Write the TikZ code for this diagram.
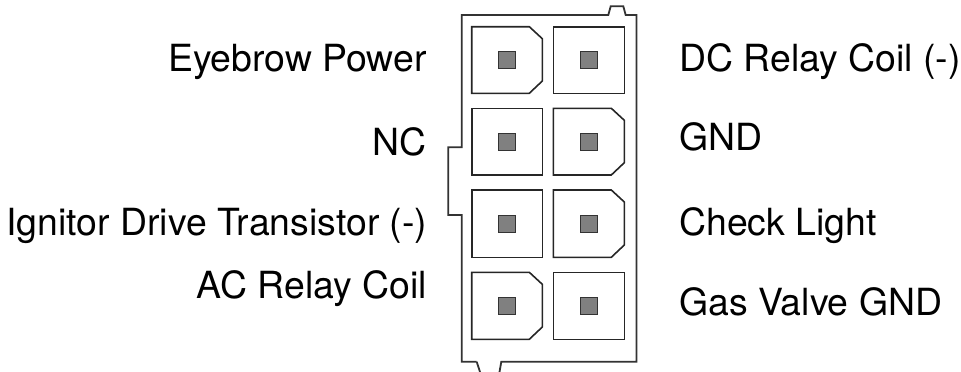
\documentclass[tikz,border=0pt]{standalone}
\usepackage{fontspec}
\setmainfont{TeX Gyre Heros}
\begin{document}
\begin{tikzpicture}[x=1pt,y=-1pt,
  housing/.style={draw=black!80,line width=1.8pt,line join=miter},
  cavity/.style={draw=black!85,line width=1.6pt,fill=white},
  pin/.style={draw=black!80,line width=1.1pt,fill=black!50,minimum size=17pt,inner sep=0pt,rectangle},
  lbl/.style={font=\fontsize{37.4}{40}\selectfont,inner sep=0pt}]
\useasboundingbox (0,0) rectangle (961,372);
% housing
\draw[housing] (476.7,361.7) -- (461.7,361.7) -- (461.7,215) -- (448.3,215) -- (448.3,147.3) -- (461.7,147.3)
  -- (461.7,15) -- (608.3,15) -- (610.7,6.3) -- (623.3,6.3) -- (625.7,15) -- (636.5,15) -- (636.5,361.7) -- (501.3,361.7) -- (498.8,376);
\draw[housing] (476.7,361.7) -- (481.3,376);
% cavities: columns x 471.7-542.3 and 553.3-624.3
% row 1
\draw[cavity] (471.7,26.7) -- (529.3,26.7) -- (542.3,38.7) -- (542.3,81) -- (529.3,93.3) -- (471.7,93.3) -- cycle;
\draw[cavity] (553.3,26.7) rectangle (624.3,93.3);
% row 2
\draw[cavity] (471.7,108.3) rectangle (542.3,175);
\draw[cavity] (553.3,108.3) -- (611.3,108.3) -- (624.3,120.3) -- (624.3,162.7) -- (611.3,175) -- (553.3,175) -- cycle;
% row 3
\draw[cavity] (471.7,190) rectangle (542.3,257.3);
\draw[cavity] (553.3,190) -- (611.3,190) -- (624.3,202) -- (624.3,245) -- (611.3,257.3) -- (553.3,257.3) -- cycle;
% row 4
\draw[cavity] (471.7,272.3) -- (529.3,272.3) -- (542.3,284.3) -- (542.3,327) -- (529.3,339.3) -- (471.7,339.3) -- cycle;
\draw[cavity] (553.3,272.3) rectangle (624.3,339.3);
% pins
\node[pin] (p1) at (506.8,60.2) {};
\node[pin] (p2) at (588.7,60.2) {};
\node[pin] (p3) at (506.8,141.7) {};
\node[pin] (p4) at (588.7,141.7) {};
\node[pin] (p5) at (506.8,223.7) {};
\node[pin] (p6) at (588.7,223.7) {};
\node[pin] (p7) at (506.8,305.8) {};
\node[pin] (p8) at (588.7,305.8) {};
% labels
\node[lbl,anchor=base east] (l1) at (427,71.7) {Eyebrow Power};
\node[lbl,anchor=base east] (l2) at (427,155) {NC};
\node[lbl,anchor=base east] (l3) at (427.5,235) {Ignitor Drive Transistor (-)};
\node[lbl,anchor=base east] (l4) at (427,298.3) {AC Relay Coil};
\node[lbl,anchor=base west] (r1) at (679,71.7) {DC Relay Coil (-)};
\node[lbl,anchor=base west] (r2) at (679,150.7) {GND};
\node[lbl,anchor=base west] (r3) at (679,235) {Check Light};
\node[lbl,anchor=base west] (r4) at (679,315) {Gas Valve GND};
\end{tikzpicture}
\end{document}
